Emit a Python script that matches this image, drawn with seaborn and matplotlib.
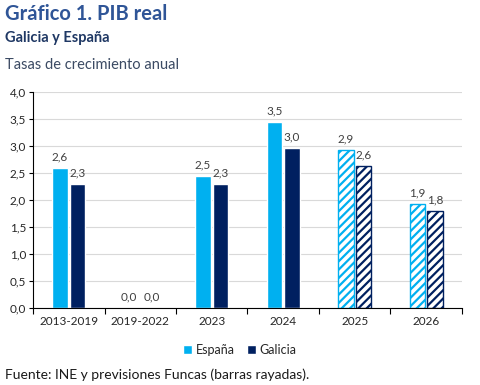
import matplotlib
matplotlib.use("Agg")
import matplotlib.pyplot as plt
from matplotlib.patches import Patch
from matplotlib.ticker import FuncFormatter, FixedLocator
import seaborn as sns
import pandas as pd

# datos
categorias = ['2013-2019', '2019-2022', '2023', '2024', '2025', '2026']
espana = [2.6, 0.0, 2.45, 3.45, 2.92, 1.93]
galicia = [2.3, 0.0, 2.3, 2.97, 2.63, 1.8]
previsiones = ['2025', '2026']  # barras rayadas

color_es = '#00B0F0'
color_ga = '#002060'

sns.set_theme(style="white")
plt.rcParams['font.family'] = ['Lato', 'DejaVu Sans']
plt.rcParams['hatch.linewidth'] = 1.6

df = pd.DataFrame({
    'periodo': categorias * 2,
    'valor': espana + galicia,
    'serie': ['España'] * len(categorias) + ['Galicia'] * len(categorias),
})

fig = plt.figure(figsize=(4.81, 3.85), dpi=100)
ax = fig.add_axes([33 / 481, 77 / 385, 429 / 481, 216 / 385])

sns.barplot(data=df, x='periodo', y='valor', hue='serie', order=categorias,
            palette=[color_es, color_ga], width=0.49, gap=0.14,
            saturation=1, legend=False, ax=ax)

cols = [color_es, color_ga]
for k, (cont, c) in enumerate(zip(ax.containers, cols)):
    for cat, bar in zip(categorias, cont):
        if cat in previsiones:
            bar.set_facecolor('white')
            bar.set_edgecolor(c)
            bar.set_hatch('////')
            bar.set_linewidth(1.0)
    txts = ax.bar_label(cont, labels=[('%.1f' % v.get_height()).replace('.', ',') for v in cont],
                        padding=4, fontsize=8.5, color='#404040')
    # separar un poco las etiquetas de las barras de altura 0
    for t, bar in zip(txts, cont):
        if bar.get_height() == 0:
            t.xyann = (-2 if k == 0 else 2, t.xyann[1])

ax.set_ylim(0, 4)
ax.set_xlim(-0.5, 5.5)
ax.set_yticks([i * 0.5 for i in range(9)])
ax.yaxis.set_major_formatter(FuncFormatter(lambda v, p: ('%.1f' % v).replace('.', ',')))
ax.grid(axis='y', color='#D9D9D9', linewidth=0.8)
ax.set_axisbelow(True)

ax.xaxis.set_minor_locator(FixedLocator([i - 0.5 for i in range(7)]))
ax.tick_params(axis='x', which='major', length=0, labelsize=8.5, colors='#262626', pad=6)
ax.tick_params(axis='x', which='minor', length=4, width=0.8, color='black', direction='out', bottom=True)
ax.tick_params(axis='y', which='major', length=3, width=0.8, color='black', direction='out',
               left=True, labelsize=8.5, labelcolor='#262626', pad=2)

for s in ['top', 'right']:
    ax.spines[s].set_visible(False)
for s in ['left', 'bottom']:
    ax.spines[s].set_color('black')
    ax.spines[s].set_linewidth(0.8)
ax.set_xlabel('')
ax.set_ylabel('')

handles = [Patch(facecolor=color_es, label='España'), Patch(facecolor=color_ga, label='Galicia')]
fig.legend(handles=handles, loc='center', bbox_to_anchor=(240 / 481, 1 - 350 / 385), ncol=2,
           frameon=False, fontsize=9, handlelength=0.7, handleheight=0.7,
           handletextpad=0.3, columnspacing=1.0, labelcolor='#262626')

fig.text(5 / 481, 1 - 14 / 385, 'Gráfico 1. PIB real', fontsize=14.5, fontweight='bold',
         color='#2F5597', va='center', ha='left')
fig.text(5 / 481, 1 - 38 / 385, 'Galicia y España', fontsize=10.5, fontweight='bold',
         color='#1F3864', va='center', ha='left')
fig.text(5 / 481, 1 - 65 / 385, 'Tasas de crecimiento anual', fontsize=10.5,
         color='#3B4A63', va='center', ha='left')
fig.text(5 / 481, 1 - 375 / 385, 'Fuente: INE y previsiones Funcas (barras rayadas).', fontsize=10,
         color='#1a1a1a', va='center', ha='left')

fig.savefig('out.png', dpi=100)
